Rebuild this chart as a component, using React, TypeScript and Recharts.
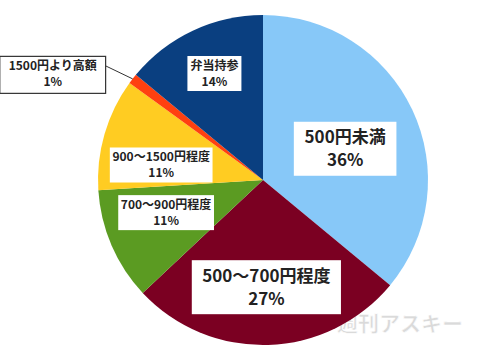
import { PieChart, Pie, Cell } from 'recharts'

const categories = ['500円未満', '500～700円程度', '700～900円程度', '900～1500円程度', '1500円より高額', '弁当持参']
const shares = [36, 27, 11, 11, 1, 14]
const sliceColors = ['#87c8f8', '#7b0022', '#5b9b22', '#ffcc22', '#ff4010', '#0a3f80']

// label layout (not data)
const labelRadius = [0.53, 0.65, 0.62, 0.63, 1, 0.72]
const labelNudge = [[3, 6], [0, 0], [-3, -8], [-2, 14], [0, 0], [2, 1]]
const labelFont = [17, 17, 12, 12, 12, 12]

const data = categories.map((name, i) => ({ name, value: shares[i] }))

const RADIAN = Math.PI / 180
const FONT = '"Noto Sans CJK JP", "Noto Sans", sans-serif'

function textWidth(s: string, fs: number) {
    let w = 0
    for (const ch of s) {
        if (/[0-9]/.test(ch)) w += 0.58 * fs
        else if (ch === '%') w += 0.85 * fs
        else w += fs
    }
    return w
}

function renderLabel(props: any) {
    const { cx, cy, midAngle, outerRadius, index } = props
    const fs = labelFont[index]
    const big = fs > 13
    const lines = [categories[index], `${shares[index]}%`]
    const padX = big ? 11 : index === 4 ? 9 : 3
    const lh = big ? 23 : 16
    const w = Math.max(...lines.map((l) => textWidth(l, fs))) + padX * 2
    const h = lh * 2 + (big ? 8 : 3)
    const r = outerRadius * labelRadius[index]
    const x = cx + r * Math.cos(-midAngle * RADIAN) + labelNudge[index][0]
    const y = cy + r * Math.sin(-midAngle * RADIAN) + labelNudge[index][1]

    if (index === 4) {
        // outside label with leader line
        const bx = x - 27 - w / 2
        const by = y - 5
        return (
            <g key={`lbl-${index}`}>
                <line x1={x} y1={y} x2={x - 27} y2={y - 13} stroke="#333" strokeWidth={1} />
                <rect x={bx - w / 2} y={by - h / 2} width={w} height={h + 2} fill="#fff" stroke="#333" strokeWidth={1.2} />
                {lines.map((l, i) => (
                    <text key={i} x={bx} y={by - lh / 2 + lh * i} dy="0.35em" textAnchor="middle"
                        fontSize={fs} fontWeight="bold" fontFamily={FONT} fill="#222">{l}</text>
                ))}
            </g>
        )
    }

    return (
        <g key={`lbl-${index}`}>
            <rect x={x - w / 2} y={y - h / 2} width={w} height={h} fill="#fff" />
            {lines.map((l, i) => (
                <text key={i} x={x} y={y - lh / 2 + lh * i} dy="0.35em" textAnchor="middle"
                    fontSize={fs} fontWeight="bold" fontFamily={FONT} fill="#222">{l}</text>
            ))}
        </g>
    )
}

export default function App() {
    return (
        <div style={{ position: 'absolute', left: 0, top: 0, width: 480, height: 360, background: '#fff' }}>
            <PieChart width={480} height={360} margin={{ top: 0, right: 0, bottom: 0, left: 0 }}>
                <Pie
                    data={data}
                    dataKey="value"
                    nameKey="name"
                    cx={263}
                    cy={180}
                    outerRadius={165}
                    startAngle={90}
                    endAngle={-270}
                    stroke="none"
                    label={renderLabel}
                    labelLine={false}
                    isAnimationActive={false}
                >
                    {data.map((d, i) => (
                        <Cell key={d.name} fill={sliceColors[i]} />
                    ))}
                </Pie>
                <text x={400} y={331} textAnchor="middle" fontSize={21} fontWeight="bold" fontFamily={FONT}
                    fill="#d6d6d6" stroke="#fff" strokeWidth={0.6} opacity={0.9}>週刊アスキー</text>
            </PieChart>
        </div>
    )
}
